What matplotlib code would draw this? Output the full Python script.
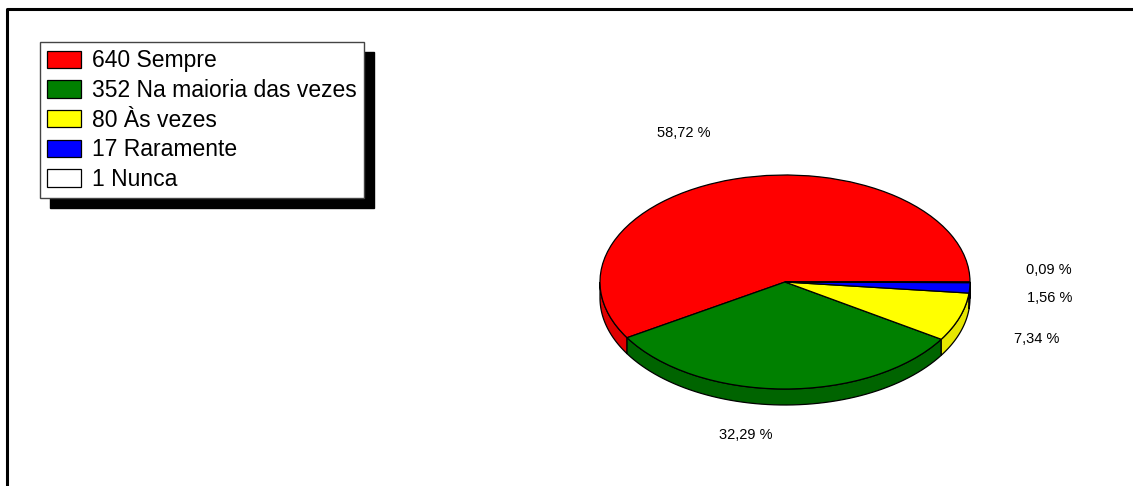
import matplotlib
matplotlib.use('Agg')
import matplotlib.pyplot as plt
import numpy as np
from matplotlib.patches import Patch, Polygon

counts = [640, 352, 80, 17, 1]
names = ['Sempre', 'Na maioria das vezes', 'Às vezes', 'Raramente', 'Nunca']
top_colors = ['#ff0000', '#008000', '#ffff00', '#0000ff', '#ffffff']
side_colors = ['#e00000', '#006400', '#e6e600', '#0000c8', '#e0e0e0']

plt.rcParams['font.family'] = ['Liberation Sans', 'DejaVu Sans']

W, H = 1133, 486
fig = plt.figure(figsize=(W / 100, H / 100), dpi=100)

# pie centre / radii in pixels
cx, cy, rx, ry, depth = 785, 282, 185, 107, 16
ax = fig.add_axes([0, 0, 1, 1])
ax.axis('off')

total = sum(counts)
wedges, _ = ax.pie(counts, colors=top_colors, startangle=0, counterclock=True,
                   wedgeprops=dict(edgecolor='black', linewidth=0.9))
for w in wedges:
    w.set_zorder(2)
ax.set_aspect('auto')
ax.set_xlim(-cx / rx, (W - cx) / rx)
ax.set_ylim((cy - H) / ry, cy / ry)

# side of the 3D pie (front half only)
d = depth / ry
start = 0.0
for c, sc in zip(counts, side_colors):
    a1 = start
    a2 = start + 360.0 * c / total
    start = a2
    lo, hi = max(a1, 180.0), min(a2, 360.0)
    if hi <= lo:
        continue
    t = np.radians(np.linspace(lo, hi, 60))
    xs = np.concatenate([np.cos(t), np.cos(t[::-1])])
    ys = np.concatenate([np.sin(t), np.sin(t[::-1]) - d])
    ax.add_patch(Polygon(np.column_stack([xs, ys]), closed=True, facecolor=sc,
                         edgecolor='black', linewidth=0.9, zorder=1))

# percentage labels
pct = [f"{v / total * 100:.2f}".replace('.', ',') + ' %' for v in counts]
label_px = [(684, 133), (746, 435), (1037, 339), (1050, 298), (1049, 270)]
for txt, (px, py) in zip(pct, label_px):
    fig.text(px / W, 1 - py / H, txt, ha='center', va='center', fontsize=10.5)

# frame lines (left and top)
ov = fig.add_axes([0, 0, 1, 1], zorder=-1)
ov.set_xlim(0, W)
ov.set_ylim(H, 0)
ov.axis('off')
ov.plot([7, 7, W], [H, 9, 9], color='black', linewidth=2.2, solid_capstyle='butt')

handles = [Patch(facecolor=c, edgecolor='black', linewidth=0.9) for c in top_colors]
labels = [f"{n} {s}" for n, s in zip(counts, names)]
leg = fig.legend(handles, labels, loc='upper left',
                 bbox_to_anchor=(40 / W, 1 - 42 / H), borderaxespad=0,
                 fontsize=16.5, frameon=True, fancybox=False,
                 shadow={'color': 'black', 'alpha': 1, 'ox': 7.2, 'oy': -7.2},
                 handlelength=1.45, handleheight=0.8, handletextpad=0.5,
                 labelspacing=0.29, borderpad=0.32)
leg.get_frame().set_edgecolor('#444444')
leg.get_frame().set_linewidth(1.0)

fig.savefig('out.png', dpi=100, facecolor='white')
